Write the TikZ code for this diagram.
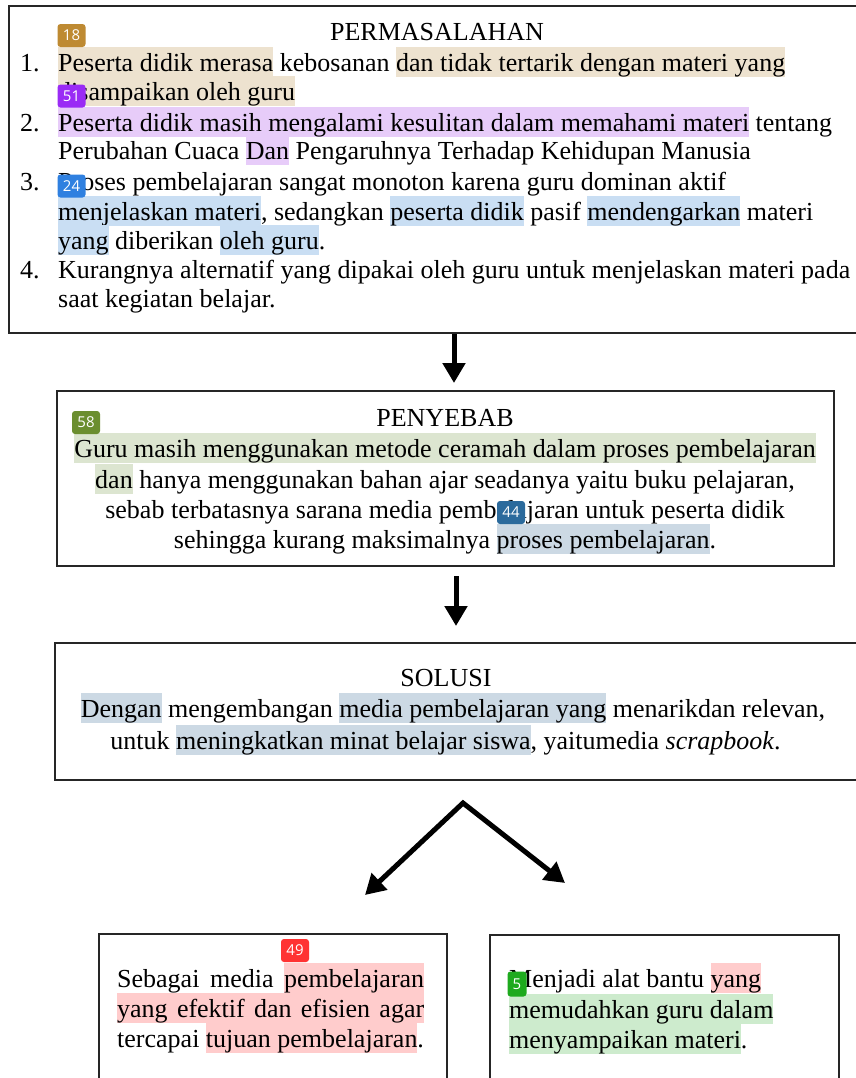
\documentclass[tikz,border=0pt]{standalone}
\usepackage{fontspec}
\setmainfont{Liberation Serif}
\newfontfamily\badgefont{Open Sans}
\usetikzlibrary{arrows.meta}
\definecolor{hltan}{HTML}{EDE2CF}
\definecolor{hllav}{HTML}{E7CCF9}
\definecolor{hlblue}{HTML}{C9DEF3}
\definecolor{hlgreen}{HTML}{DCE5D0}
\definecolor{hlgray}{HTML}{CCD9E4}
\definecolor{hlpink}{HTML}{FFCCCC}
\definecolor{hlmint}{HTML}{CDEBCD}
\definecolor{bdgold}{HTML}{BE8A32}
\definecolor{bdpurple}{HTML}{9A2BF5}
\definecolor{bdblue}{HTML}{2F80E0}
\definecolor{bdolive}{HTML}{6B8E2F}
\definecolor{bdsteel}{HTML}{2B6A9C}
\definecolor{bdred}{HTML}{FF3333}
\definecolor{bdgreen}{HTML}{1EAA1E}
\newcommand\hlx[2]{{\setlength{\fboxsep}{0pt}\colorbox{#1}{\rule[-6bp]{0pt}{30bp}#2}}}
\begin{document}
\begin{tikzpicture}[x=1bp,y=-1bp,
  box/.style={draw=black!85, line width=2bp, rectangle, inner sep=0pt},
  txt/.style={inner sep=0pt, anchor=base west, font=\fontsize{26bp}{30bp}\selectfont},
  ctxt/.style={inner sep=0pt, anchor=base, font=\fontsize{26bp}{30bp}\selectfont},
  badge/.style={fill=#1, rounded corners=3bp, text=white, inner sep=0pt, minimum width=28bp, minimum height=23bp, font=\badgefont\fontsize{15bp}{15bp}\selectfont},
  bigarrow/.style={line width=5bp, -{Triangle[length=20bp,width=22bp]}},
  twoarrow/.style={line width=5bp, {Triangle[length=20bp,width=22bp]}-{Triangle[length=20bp,width=22bp]}, line join=miter}]
\clip (0,0) rectangle (856,1078);
\fill[white] (0,0) rectangle (856,1078);

% boxes
\node[box, minimum width=870.5bp, minimum height=327bp] (perm) at (444.75,169.5) {};
\node[box, minimum width=777bp, minimum height=175bp] (peny) at (445.5,478.5) {};
\node[box, minimum width=825bp, minimum height=137bp] (solu) at (467.5,711.5) {};
\node[box, minimum width=348bp, minimum height=166bp] (left) at (273,1017) {};
\node[box, minimum width=349bp, minimum height=165bp] (right) at (664.5,1017.5) {};

% box 1 text
\node[ctxt] (t1) at (437,40) {PERMASALAHAN};
\node[txt] (n1) at (20,71) {1.};
\node[txt] (l1) at (58,71) {\hlx{hltan}{Peserta didik merasa} kebosanan \hlx{hltan}{dan tidak tertarik dengan materi yang}};
\node[txt] (l2) at (58,100) {\hlx{hltan}{disampaikan oleh guru}};
\node[txt] (n2) at (20,131) {2.};
\node[txt] (l3) at (58,131) {\hlx{hllav}{Peserta didik masih mengalami kesulitan dalam memahami materi} tentang};
\node[txt] (l4) at (58,159) {Perubahan Cuaca \hlx{hllav}{Dan} Pengaruhnya Terhadap Kehidupan Manusia};
\node[txt] (n3) at (20,190) {3.};
\node[txt] (l5) at (58,190) {Proses pembelajaran sangat monoton karena guru dominan aktif};
\node[txt] (l6) at (58,220) {\hlx{hlblue}{menjelaskan materi}, sedangkan \hlx{hlblue}{peserta didik} pasif \hlx{hlblue}{mendengarkan} materi};
\node[txt] (l7) at (58,249) {\hlx{hlblue}{yang} diberikan \hlx{hlblue}{oleh guru}.};
\node[txt] (n4) at (20,278) {4.};
\node[txt] (l8) at (58,278) {Kurangnya alternatif yang dipakai oleh guru untuk menjelaskan materi pada};
\node[txt] (l9) at (58,307) {saat kegiatan belajar.};

% box 2 text
\node[ctxt] (t2) at (445,426) {PENYEBAB};
\node[ctxt] (p1) at (445,457) {\hlx{hlgreen}{Guru masih menggunakan metode ceramah dalam proses pembelajaran}};
\node[ctxt] (p2) at (445,488) {\hlx{hlgreen}{dan} hanya menggunakan bahan ajar seadanya yaitu buku pelajaran,};
\node[ctxt] (p3) at (445,518) {sebab terbatasnya sarana media pembelajaran untuk peserta didik};
\node[ctxt] (p4) at (445,548) {sehingga kurang maksimalnya \hlx{hlgray}{proses pembelajaran}.};

% box 3 text
\node[ctxt] (t3) at (446,686) {SOLUSI};
\node[ctxt] (s1) at (453,717) {\hlx{hlgray}{Dengan} mengembangan \hlx{hlgray}{media pembelajaran yang} menarikdan relevan,};
\node[ctxt] (s2) at (445.5,749) {untuk \hlx{hlgray}{meningkatkan minat belajar siswa}, yaitumedia \textit{scrapbook}.};

% box 4 text
\node[txt] (a1) at (117,987) {\hbox to 307bp{Sebagai \hfill media \hfill \hlx{hlpink}{pembelajaran}}};
\node[txt] (a2) at (117,1017) {\hlx{hlpink}{\hbox to 307bp{yang \hfill efektif \hfill dan \hfill efisien \hfill agar}}};
\node[txt] (a3) at (117,1047) {tercapai \hlx{hlpink}{tujuan pembelajaran}.};

% box 5 text
\node[txt] (b1) at (509,987) {Menjadi alat bantu \hlx{hlpink}{yang}};
\node[txt] (b2) at (509,1018) {\hlx{hlmint}{memudahkan guru dalam}};
\node[txt] (b3) at (509,1048) {\hlx{hlmint}{menyampaikan materi}.};

% arrows
\coordinate (e1) at (454,383);
\coordinate (e2s) at (456,576);
\coordinate (e2) at (456,626);
\coordinate (apex) at (463,803);
\coordinate (vl) at (365,895);
\coordinate (vr) at (565,883);
\draw[bigarrow] (perm.south -| e1) -- (e1);
\draw[bigarrow] (e2s) -- (e2);
\draw[twoarrow] (vl) -- (apex) -- (vr);

% badges
\node[badge=bdgold] (g18) at (71.5,35.5) {18};
\node[badge=bdpurple] (g51) at (71.5,96) {51};
\node[badge=bdblue] (g24) at (71.5,186) {24};
\node[badge=bdolive] (g58) at (86,422.5) {58};
\node[badge=bdsteel] (g44) at (511,512.5) {44};
\node[badge=bdred] (g49) at (295,950.5) {49};
\node[badge=bdgreen, minimum width=19bp, minimum height=25bp] (g5) at (517,984) {5};
\end{tikzpicture}
\end{document}
